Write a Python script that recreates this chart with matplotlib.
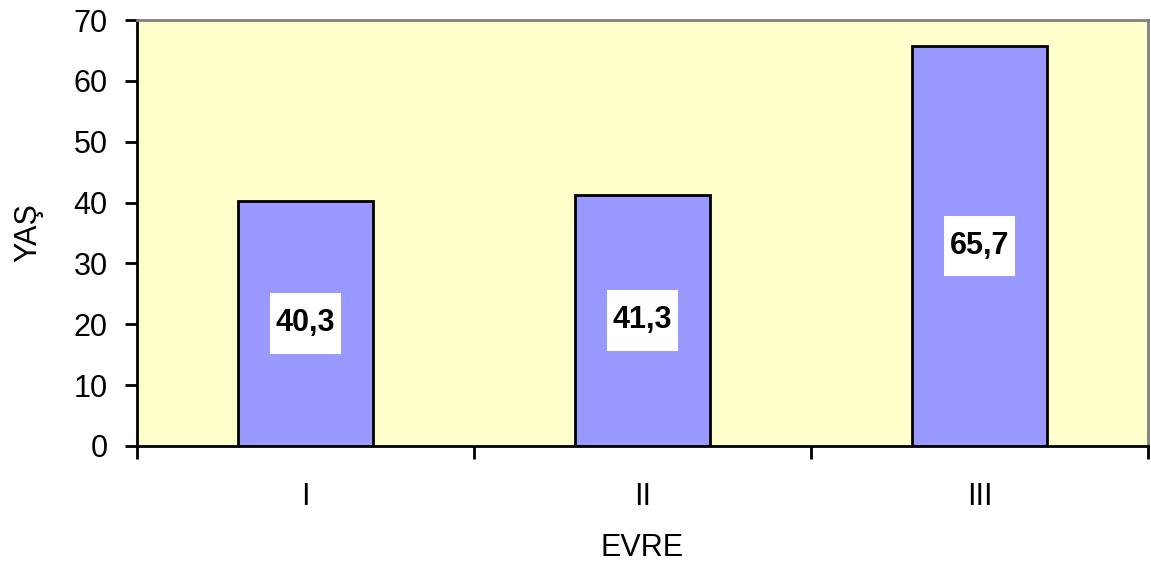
import matplotlib.pyplot as plt
import numpy as np

plt.rcParams['font.family'] = ['Liberation Sans', 'DejaVu Sans']

stages = ['I', 'II', 'III']
ages = [40.3, 41.3, 65.7]
value_labels = ['40,3', '41,3', '65,7']

fig = plt.figure(figsize=(11.51, 5.61), dpi=100)
ax = fig.add_axes([0.119, 0.205, 0.8784, 0.7593])
ax.set_facecolor('#FFFFCC')

x = np.arange(len(stages))
ax.bar(x, ages, width=0.4, color='#9999FF', edgecolor='black', linewidth=2, zorder=2)

# value boxes: taller padding than wide
for xi, val, txt in zip(x, ages, value_labels):
    ax.text(xi, val / 2, txt, ha='center', va='center', fontsize=22, fontweight='bold',
            bbox=dict(facecolor='white', edgecolor='none', pad=4, mutation_aspect=2.8),
            zorder=3)

ax.set_xlim(-0.5, len(stages) - 0.5)
ax.set_ylim(0, 70)
ax.set_yticks(range(0, 71, 10))
ax.tick_params(axis='y', labelsize=22, length=9, width=2, direction='out', pad=12)

# category boundary ticks, labels sit between them
ax.set_xticks(np.arange(-0.5, len(stages), 1.0))
ax.set_xticklabels([])
ax.set_xticks(x, minor=True)
ax.set_xticklabels(stages, minor=True, fontsize=22)
ax.tick_params(axis='x', which='major', length=9, width=2, direction='out')
ax.tick_params(axis='x', which='minor', length=0, pad=26)

ax.set_xlabel('EVRE', fontsize=22, va='center')
ax.set_ylabel('YAŞ', fontsize=22, va='center')
ax.xaxis.set_label_coords(0.5, -0.239)
ax.yaxis.set_label_coords(-0.107, 0.5)

for side in ['left', 'bottom']:
    ax.spines[side].set_linewidth(2)
    ax.spines[side].set_color('black')
for side in ['top', 'right']:
    ax.spines[side].set_linewidth(2)
    ax.spines[side].set_color('#808080')

fig.savefig('out.png', dpi=100)
